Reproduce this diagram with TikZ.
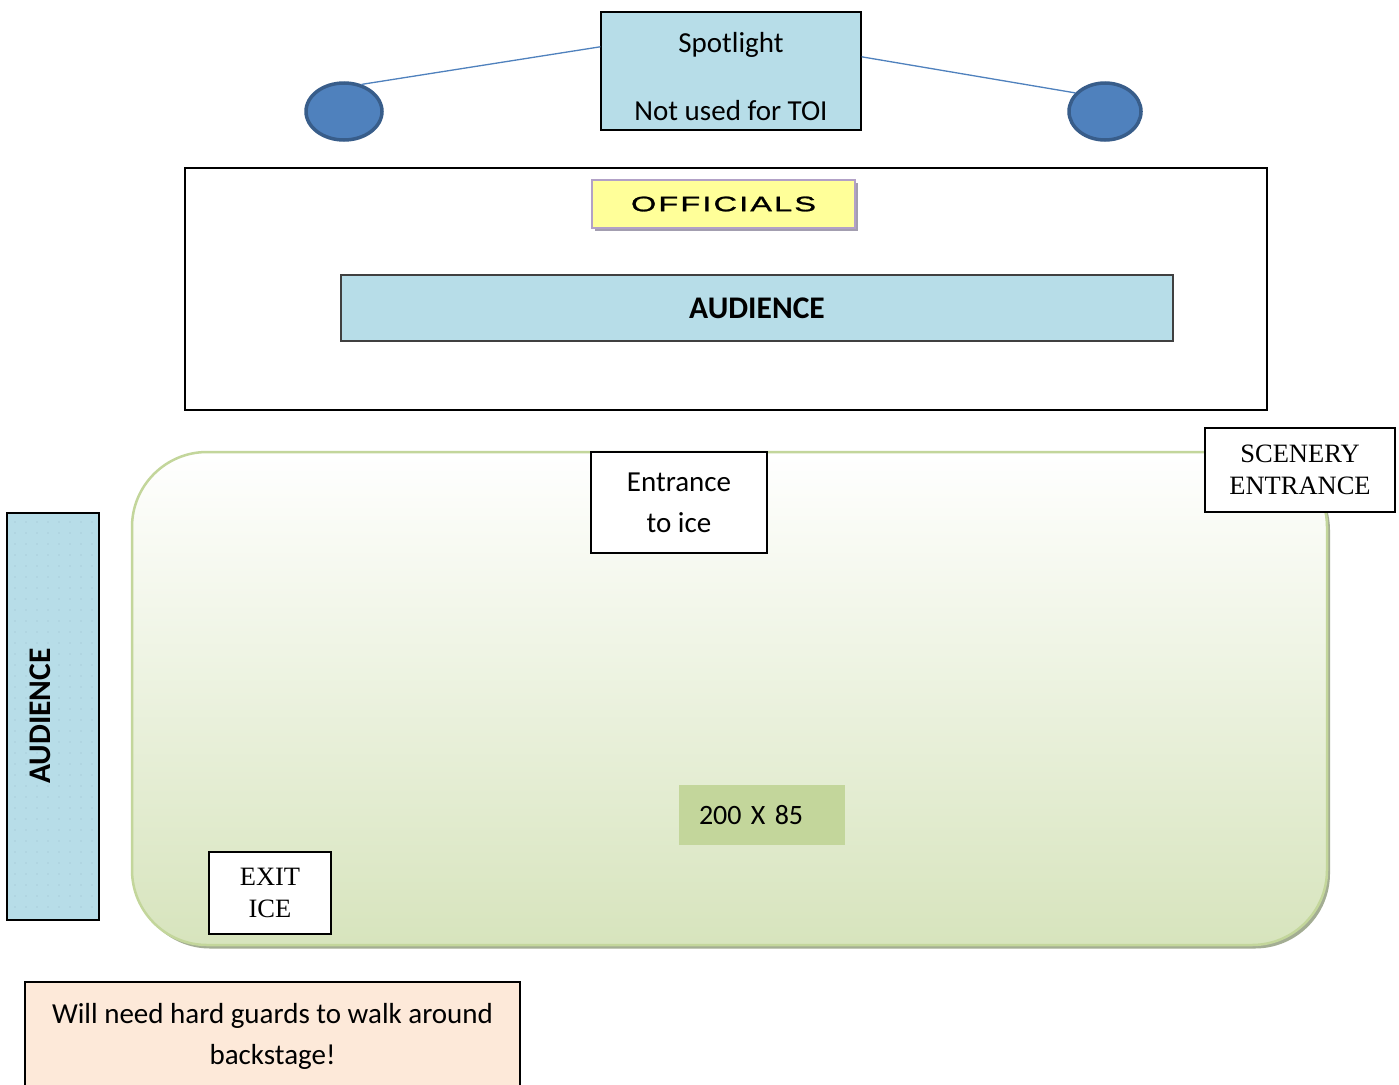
\documentclass[tikz,border=0pt]{standalone}
\usepackage{fontspec}
\setmainfont{Carlito}
\newfontfamily\timesfont{Liberation Serif}
\newfontfamily\offfont[FakeStretch=1.55,LetterSpace=10,FakeBold=1.2]{Liberation Sans}
\usetikzlibrary{shapes.geometric,shadows,calc}

\definecolor{audblue}{HTML}{B7DDE8}
\definecolor{auddot}{HTML}{A9CEDB}
\definecolor{lampblue}{HTML}{4F81BD}
\definecolor{lampedge}{HTML}{385D8A}
\definecolor{offyellow}{HTML}{FFFF99}
\definecolor{offedge}{HTML}{B2A1C7}
\definecolor{offshadow}{HTML}{A39EB0}
\definecolor{rinkgreen}{HTML}{D7E4BD}
\definecolor{rinkedge}{HTML}{C3D69B}
\definecolor{rinkshadow}{HTML}{A3AD93}
\definecolor{sizegreen}{HTML}{C3D69B}
\definecolor{notepeach}{HTML}{FDE9D9}

\tikzstyle{calib} = [font=\fontsize{29}{35}\selectfont]
\tikzstyle{calibbold} = [font=\fontsize{31.5}{36}\selectfont\bfseries]
\tikzstyle{serif} = [font=\timesfont\fontsize{26.5}{32}\selectfont]
\tikzstyle{plain} = [rectangle, draw, line width=1.3pt, fill=white, align=center]
\tikzstyle{lamp} = [ellipse, draw=lampedge, fill=lampblue, line width=3.5pt,
    minimum height=57]
\tikzstyle{seats} = [rectangle, draw=black!75, line width=1.3pt, fill=audblue]

\begin{document}
\begin{tikzpicture}[x=1pt,y=-1pt,inner sep=0pt]
  \path[use as bounding box, fill=white] (0,0) rectangle (1399,1084);

  % spotlights
  \node[plain, calib, fill=audblue, minimum width=260, minimum height=118]
      (spot) at (731,71) {\rule{0pt}{31pt}Spotlight\\[33pt]Not used for TOI};
  \node[lamp, minimum width=76] (lampL) at (344,111.5) {};
  \node[lamp, minimum width=72] (lampR) at (1105,111.5) {};
  \draw[lampblue, line width=1.3pt]
      (lampL.57) -- ($(spot.north west)!0.297!(spot.south west)$);
  \draw[lampblue, line width=1.3pt]
      ($(spot.north east)!0.381!(spot.south east)$) -- (lampR.148);

  % officials stand
  \node[rectangle, draw, line width=1.3pt, minimum width=1082, minimum height=242]
      (stand) at (726,289) {};
  \node[rectangle, draw=offedge, line width=2pt, fill=offyellow,
        minimum width=263, minimum height=48, font=\offfont\fontsize{21}{25}\selectfont,
        general shadow={fill=offshadow, shadow xshift=3pt, shadow yshift=-3pt}]
      (officials) at (723.5,204) {OFFICIALS};
  \node[seats, calibbold, minimum width=832, minimum height=66]
      (audTop) at (757,308) {AUDIENCE};

  % ice
  \draw[rinkedge, line width=2.5pt, rounded corners=75,
        top color=white, bottom color=rinkgreen,
        general shadow={fill=rinkshadow, shadow xshift=3pt, shadow yshift=-3.5pt}]
      (132,452) rectangle (1327,945);
  \node[fill=sizegreen, font=\fontsize{28}{34}\selectfont, minimum height=60,
        text width=126, align=left, inner xsep=20pt] (size) at (762,815) {200 X 85};

  \node[plain, calib, minimum width=176, minimum height=101]
      (entrance) at (679,502.5) {Entrance\\[6pt]to ice};
  \node[plain, serif, minimum width=190, minimum height=84]
      (scenery) at (1300,470) {SCENERY\\ENTRANCE};
  \node[plain, serif, minimum width=122, minimum height=82]
      (exit) at (270,893) {EXIT\\ICE};

  % side seats
  \node[seats, draw=black, minimum width=92, minimum height=407] (audL) at (53,716.5) {};
  \foreach \x in {15,26,...,92}
    \foreach \y in {522,533,...,914}
      \fill[auddot] (\x,\y) circle (0.8);
  \node[calibbold, rotate=90] (audLtext) at (40,716) {AUDIENCE};

  % note
  \node[plain, calib, fill=notepeach, minimum width=495, minimum height=108]
      (note) at (272.5,1036) {Will need hard guards to walk around\\[6pt]backstage!};
\end{tikzpicture}
\end{document}
